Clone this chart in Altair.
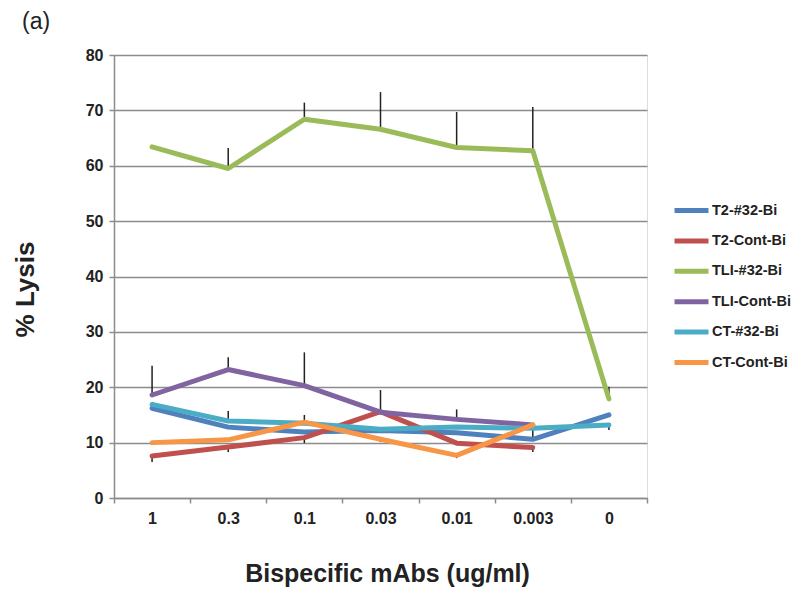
import altair as alt
import pandas as pd

FONT = "Liberation Sans"
GRAY = "#8c8c8c"
INK = "#222222"

CATEGORIES = ["1", "0.3", "0.1", "0.03", "0.01", "0.003", "0"]
SERIES = ["T2-#32-Bi", "T2-Cont-Bi", "TLI-#32-Bi", "TLI-Cont-Bi", "CT-#32-Bi", "CT-Cont-Bi"]
COLORS = ["#4F81BD", "#C0504D", "#9BBB59", "#8064A2", "#4BACC6", "#F79646"]

T2_32 = [16.2, 12.8, 11.9, 12.2, 11.8, 10.6, 15.0]
T2_CONT = [7.6, 9.2, 10.9, 15.6, 9.9, 9.1, None]
TLI_32 = [63.4, 59.5, 68.4, 66.6, 63.3, 62.7, 17.9]
TLI_CONT = [18.6, 23.2, 20.3, 15.5, 14.2, 13.2, None]
CT_32 = [16.9, 13.9, 13.5, 12.4, 12.8, 12.6, 13.2]
CT_CONT = [10.0, 10.5, 13.7, 10.6, 7.7, 13.2, None]

ERR_UP = {
    "T2-#32-Bi": [0, 0, 0, 0, 0, 1.7, 0.3],
    "T2-Cont-Bi": [0, 0, 0, 3.9, 0, 0, 0],
    "TLI-#32-Bi": [0, 3.7, 3.0, 6.7, 6.4, 7.9, 2.2],
    "TLI-Cont-Bi": [5.3, 2.2, 6.0, 0, 1.8, 0, 0],
    "CT-#32-Bi": [0, 1.8, 1.5, 0, 0, 0, 0],
    "CT-Cont-Bi": [0, 0, 0, 0, 0, 0, 0],
}
ERR_DN = {
    "T2-#32-Bi": [0, 0, 0, 0, 0, 0, 0],
    "T2-Cont-Bi": [1.1, 0.9, 1.0, 0, 0, 0.8, 0],
    "TLI-#32-Bi": [0, 0, 0, 0, 0, 0, 0],
    "TLI-Cont-Bi": [0, 0, 0, 0, 0, 0, 0],
    "CT-#32-Bi": [0, 0, 0, 0, 0, 0, 0.9],
    "CT-Cont-Bi": [0, 0, 0, 0.5, 0.5, 0, 0],
}

VALUES = dict(zip(SERIES, [T2_32, T2_CONT, TLI_32, TLI_CONT, CT_32, CT_CONT]))

rows, err_rows = [], []
for s in SERIES:
    for i, c in enumerate(CATEGORIES):
        v = VALUES[s][i]
        if v is None:
            continue
        rows.append({"series": s, "conc": c, "conc_idx": i, "lysis": v})
        up, dn = ERR_UP[s][i], ERR_DN[s][i]
        if up > 0 or dn > 0:
            err_rows.append({"series": s, "conc": c, "lo": v - dn, "hi": v + up})

df = pd.DataFrame(rows)
df_err = pd.DataFrame(err_rows)

x_scale = alt.Scale(type="band", domain=CATEGORIES, paddingInner=0, paddingOuter=0)
y_scale = alt.Scale(domain=[0, 80], nice=False)

x_axis = alt.Axis(
    title="Bispecific mAbs (ug/ml)", labelAngle=0, labelFont=FONT, labelFontSize=16,
    labelFontWeight="bold", labelColor=INK, labelPadding=7, tickBand="extent",
    ticks=True, tickSize=5, tickColor=GRAY, tickWidth=1.5, domainColor=GRAY,
    domainWidth=1.5, grid=False, titleFont=FONT, titleFontSize=25,
    titleFontWeight="bold", titleColor=INK, titleX=273, titleY=83,
    titleAlign="center", titleBaseline="alphabetic",
)
y_axis = alt.Axis(
    title="% Lysis", values=list(range(0, 81, 10)), grid=True, gridColor=GRAY,
    gridWidth=1.5, domainColor=GRAY, domainWidth=1.5, tickColor=GRAY, tickWidth=1.5,
    tickSize=5, labelPadding=6, labelFont=FONT, labelFontSize=16,
    labelFontWeight="bold", labelColor=INK, titleFont=FONT, titleFontSize=26,
    titleFontWeight="bold", titleColor=INK, titleAngle=270, titleX=-76, titleY=234,
    titleBaseline="bottom", titleAlign="center",
)

errors = alt.Chart(df_err).mark_rule(color=INK, strokeWidth=1.5).encode(
    x=alt.X("conc:N", scale=x_scale, axis=x_axis, bandPosition=0.5),
    y=alt.Y("lo:Q", scale=y_scale, axis=y_axis),
    y2="hi:Q",
)

lines = alt.Chart(df).mark_line(strokeWidth=5, strokeJoin="round", strokeCap="round").encode(
    x=alt.X("conc:N", scale=x_scale, axis=x_axis, bandPosition=0.5),
    y=alt.Y("lysis:Q", scale=y_scale, axis=y_axis),
    color=alt.Color(
        "series:N",
        scale=alt.Scale(domain=SERIES, range=COLORS),
        legend=alt.Legend(
            title=None, orient="none", legendX=558, legendY=148, symbolType="stroke",
            symbolStrokeWidth=5, symbolSize=1156, clipHeight=15, rowPadding=14.4,
            labelFont=FONT, labelFontSize=14.5, labelFontWeight="bold", labelColor=INK,
            labelOffset=1, padding=0,
        ),
    ),
    order=alt.Order("conc_idx:Q"),
)

chart = alt.layer(errors, lines).properties(
    width=533,
    height=443,
    autosize=alt.AutoSizeParams(type="none"),
    padding={"left": 106, "top": 47, "right": 145, "bottom": 89},
    title=alt.TitleParams(
        "(a)", anchor="start", frame="group", dx=-92, offset=13, fontSize=23,
        fontWeight="normal", font=FONT, color=INK,
    ),
).configure_view(stroke=None).configure(background="white")

chart.save("out.html", embed_options={"renderer": "svg", "actions": False})
